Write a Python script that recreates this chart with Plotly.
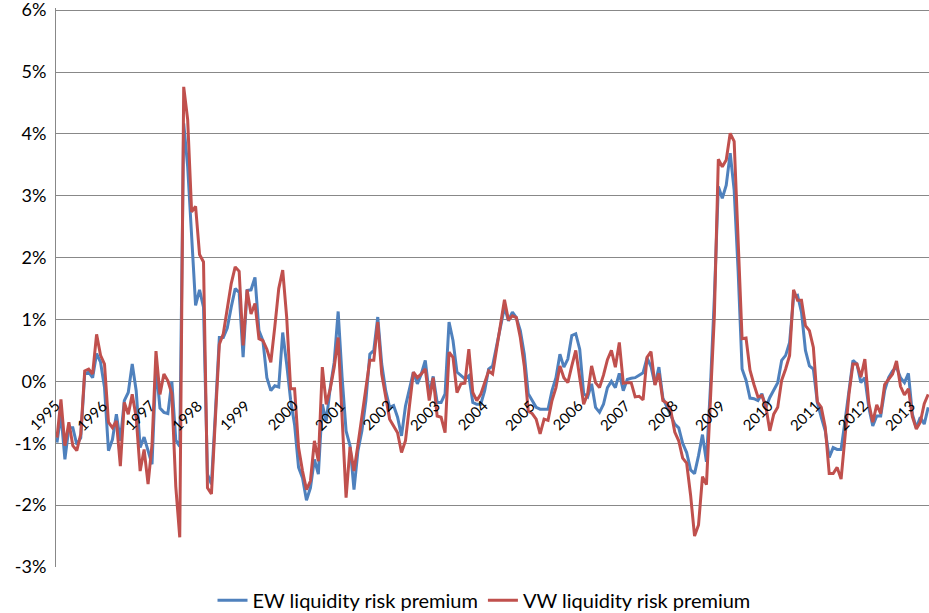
import pandas as pd
import plotly.graph_objects as go

# Monthly categories (Jan 1995 ... May 2013)
months = pd.date_range("1995-01-01", periods=221, freq="MS").strftime("%Y-%m").tolist()

# EW liquidity risk premium (%)
ew = [
    -0.99, -0.53, -1.26, -0.75, -0.75, -1.02, -0.91, 0.12, 0.15, 0.06, 0.45, 0.31,
    -0.10, -1.12, -0.94, -0.53, -0.96, -0.31, -0.18, 0.28, -0.15, -1.07, -0.90, -1.12,
    -1.34, 0.25, -0.43, -0.50, -0.52, 0.00, -0.95, -1.05, 4.17, 3.47, 2.34, 1.23,
    1.48, 1.20, -1.50, -1.66, -0.50, 0.71, 0.71, 0.86, 1.20, 1.50, 1.44, 0.39,
    1.47, 1.48, 1.68, 0.82, 0.66, 0.06, -0.15, -0.07, -0.09, 0.79, 0.28, -0.30,
    -0.70, -1.39, -1.56, -1.92, -1.72, -1.26, -1.50, -0.37, -0.64, -0.10, 0.31, 1.13,
    0.06, -0.80, -1.04, -1.75, -1.12, -0.80, -0.31, 0.44, 0.50, 1.04, 0.28, -0.15,
    -0.42, -0.39, -0.58, -0.88, -0.40, -0.10, 0.15, -0.04, 0.12, 0.34, -0.20, 0.08,
    -0.34, -0.34, -0.20, 0.96, 0.66, 0.15, 0.09, 0.04, 0.09, -0.34, -0.37, -0.37,
    -0.15, 0.20, 0.25, 0.55, 0.88, 1.20, 0.98, 1.12, 1.03, 0.82, 0.44, -0.20,
    -0.31, -0.42, -0.45, -0.45, -0.45, -0.15, 0.06, 0.44, 0.23, 0.36, 0.74, 0.77,
    0.52, -0.20, -0.25, -0.04, -0.42, -0.50, -0.37, -0.10, 0.00, -0.10, 0.13, -0.15,
    0.03, 0.05, 0.06, 0.10, 0.14, 0.38, 0.24, -0.05, 0.23, -0.27, -0.40, -0.55,
    -0.69, -0.75, -1.00, -1.15, -1.43, -1.49, -1.20, -0.86, -1.30, -0.10, 1.36, 3.15,
    2.96, 3.17, 3.69, 3.09, 1.79, 0.20, 0.02, -0.27, -0.28, -0.31, -0.20, -0.42,
    -0.26, -0.15, -0.02, 0.34, 0.42, 0.63, 1.36, 1.39, 1.12, 0.50, 0.25, 0.20,
    -0.34, -0.58, -0.80, -1.23, -1.07, -1.10, -1.10, -0.64, -0.15, 0.34, 0.28, -0.02,
    0.06, -0.42, -0.72, -0.56, -0.56, -0.15, 0.06, 0.17, 0.23, 0.06, -0.02, 0.13,
    -0.53, -0.75, -0.58, -0.69, -0.42,
]

# VW liquidity risk premium (%)
vw = [
    -0.91, -0.29, -1.04, -0.66, -1.04, -1.12, -0.85, 0.17, 0.20, 0.12, 0.76, 0.42,
    0.28, -0.66, -0.75, -0.64, -1.37, -0.34, -0.53, -0.21, -0.58, -1.45, -1.10, -1.66,
    -1.02, 0.49, -0.21, 0.12, 0.01, -0.20, -1.70, -2.52, 4.76, 4.23, 2.74, 2.83,
    2.05, 1.93, -1.72, -1.82, -0.60, 0.60, 0.77, 1.20, 1.58, 1.85, 1.78, 0.58,
    1.48, 1.09, 1.26, 0.69, 0.66, 0.52, 0.31, 0.88, 1.50, 1.80, 1.04, -0.12,
    -0.12, -1.07, -1.45, -1.75, -1.61, -0.96, -1.29, 0.23, -0.37, -0.12, 0.23, 0.71,
    -0.48, -1.88, -1.06, -1.45, -1.02, -0.58, -0.10, 0.34, 0.34, 0.96, 0.12, -0.26,
    -0.61, -0.72, -0.83, -1.15, -0.96, -0.40, 0.15, 0.06, 0.12, 0.20, -0.31, 0.06,
    -0.56, -0.58, -0.83, 0.47, 0.39, -0.18, -0.04, -0.03, 0.52, -0.18, -0.31, -0.21,
    -0.02, 0.17, 0.12, 0.50, 0.88, 1.32, 0.99, 1.06, 1.03, 0.71, 0.25, -0.48,
    -0.52, -0.61, -0.85, -0.61, -0.63, -0.31, -0.10, 0.25, 0.06, -0.02, 0.25, 0.50,
    0.06, -0.37, -0.20, 0.25, -0.02, -0.10, 0.10, 0.35, 0.50, 0.23, 0.63, -0.03,
    -0.02, -0.02, -0.25, -0.24, -0.30, 0.39, 0.48, -0.06, 0.13, -0.31, -0.35, -0.47,
    -0.82, -0.96, -1.24, -1.32, -1.84, -2.50, -2.32, -1.54, -1.67, -0.35, 1.06, 3.59,
    3.47, 3.58, 4.01, 3.88, 2.12, 0.69, 0.70, 0.18, -0.05, -0.25, -0.23, -0.40,
    -0.80, -0.53, -0.42, 0.02, 0.20, 0.42, 1.48, 1.31, 1.31, 0.90, 0.82, 0.55,
    -0.33, -0.42, -0.74, -1.49, -1.49, -1.39, -1.58, -0.85, -0.20, 0.28, 0.28, 0.07,
    0.36, -0.35, -0.66, -0.38, -0.52, -0.05, 0.04, 0.12, 0.33, -0.08, -0.22, -0.12,
    -0.57, -0.77, -0.66, -0.36, -0.21,
]

year_labels = [str(y) for y in range(1995, 2014)]
y_tick_vals = [-3, -2, -1, 0, 1, 2, 3, 4, 5, 6]
y_tick_text = ["-3%", "-2%", "-1%", "0%", "1%", "2%", "3%", "4%", "5%", "6%"]

FONT = "Lato"
GRID = "#888888"

fig = go.Figure()
fig.add_trace(go.Scatter(x=months, y=ew, mode="lines", name="EW liquidity risk premium",
                         line=dict(color="#4F81BD", width=3)))
fig.add_trace(go.Scatter(x=months, y=vw, mode="lines", name="VW liquidity risk premium",
                         line=dict(color="#C0504D", width=3)))

for lab in year_labels:
    fig.add_annotation(x=f"{lab}-01", y=0, xref="x", yref="y", text=lab,
                       textangle=-45, showarrow=False, xanchor="right", yanchor="top",
                       xshift=9, yshift=-12, font=dict(family=FONT, size=15, color="#000000"))

fig.update_layout(
    width=929, height=613,
    margin=dict(l=56, r=0, t=8, b=46, autoexpand=False),
    paper_bgcolor="white", plot_bgcolor="white",
    font=dict(family=FONT, color="#000000"),
    showlegend=True,
    legend=dict(orientation="h", x=0.521, xanchor="center", xref="container",
                y=0.021, yanchor="middle", yref="container",
                font=dict(family=FONT, size=20), itemwidth=30, tracegroupgap=0),
    xaxis=dict(type="category", range=[-0.25, 220.2], showticklabels=False,
               showgrid=False, zeroline=False, showline=False, ticks="", automargin=False),
    yaxis=dict(range=[-3, 6.035], tickvals=y_tick_vals, ticktext=y_tick_text,
               showgrid=True, gridcolor=GRID, gridwidth=1, zeroline=False,
               showline=True, linecolor=GRID, linewidth=1, ticks="", automargin=False,
               ticklabelstandoff=5, ticklabeloverflow="allow",
               tickfont=dict(family=FONT, size=18)),
)

fig.write_html("out.html", config={"displayModeBar": False},
               post_script="document.body.style.margin='0';document.body.style.overflow='hidden';")
